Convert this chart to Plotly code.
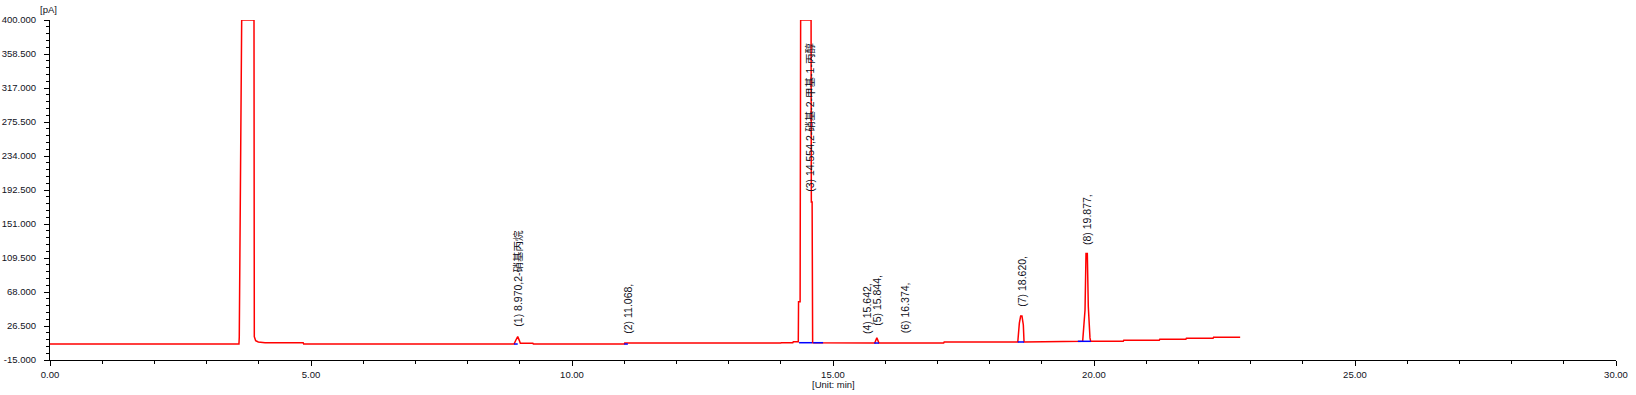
import plotly.graph_objects as go

# ---------------- data ----------------
# chromatogram signal (time in min, signal in pA); saturated peaks clipped at 400
time_min = [0.00, 3.620, 3.626, 3.653, 3.672, 3.908, 3.914, 3.940, 3.990, 4.120, 4.850, 4.860,
            8.890, 8.930, 8.960, 8.990, 9.010, 9.250, 9.260,
            11.000, 11.010, 14.000, 14.010, 14.230, 14.240, 14.335, 14.340, 14.370, 14.380,
            14.580, 14.585, 14.600, 14.610, 15.800, 15.840, 15.880, 17.120, 17.130,
            18.540, 18.570, 18.595, 18.620, 18.646, 18.660, 18.950, 18.960,
            19.783, 19.828, 19.847, 19.872, 19.891, 19.923, 19.936,
            20.560, 20.570, 21.250, 21.260, 21.760, 21.770, 22.280, 22.290, 22.800]
signal_pa = [4.5, 4.5, 13.0, 225.0, 400.0, 400.0, 13.5, 8.6, 7.0, 6.1, 6.1, 4.5,
             4.5, 10.0, 13.5, 9.0, 5.4, 5.4, 4.5,
             4.5, 5.8, 5.8, 6.1, 6.1, 7.3, 7.3, 56.0, 56.0, 400.0,
             400.0, 178.0, 178.0, 6.1, 5.7, 12.2, 5.7, 5.7, 7.0,
             7.0, 30.0, 38.7, 38.7, 28.0, 7.0, 7.0, 7.8,
             7.8, 46.0, 115.0, 115.0, 50.0, 12.0, 7.8,
             7.8, 9.0, 9.0, 10.2, 10.2, 11.5, 11.5, 12.7, 12.7]

# integration baselines (start, end, level)
base_start = [8.89, 11.00, 14.35, 14.62, 15.79, 18.54, 19.69]
base_end = [8.96, 11.07, 14.60, 14.81, 15.88, 18.66, 19.94]
base_level = [4.5, 4.5, 6.1, 6.1, 5.7, 7.0, 7.8]

# peak labels
peak_rt = [8.970, 11.068, 14.554, 15.642, 15.844, 16.374, 18.620, 19.877]
peak_name = ["2-硝基丙烷", "", "2-硝基-2-甲基-1-丙醇", "", "", "", "", ""]
peak_label_level = [24.1, 15.5, 189.3, 15.5, 24.9, 16.7, 49.3, 124.2]

y_ticks = [-15.0, 26.5, 68.0, 109.5, 151.0, 192.5, 234.0, 275.5, 317.0, 358.5, 400.0]
x_ticks = [0, 5, 10, 15, 20, 25, 30]

# ---------------- figure ----------------
fig = go.Figure()
fig.add_trace(go.Scatter(x=time_min, y=signal_pa, mode="lines",
                         line=dict(color="#ff0000", width=1.5), hoverinfo="skip"))

bx, by = [], []
for s, e, l in zip(base_start, base_end, base_level):
    bx += [s, e, None]
    by += [l, l, None]
fig.add_trace(go.Scatter(x=bx, y=by, mode="lines",
                         line=dict(color="#0000ff", width=1.5), hoverinfo="skip"))

font_fam = "Liberation Sans, Arial, Noto Sans CJK SC, sans-serif"
for i, (rt, nm, lv) in enumerate(zip(peak_rt, peak_name, peak_label_level)):
    fig.add_annotation(x=rt, y=lv, xref="x", yref="y",
                       text=f"({i+1}) {rt:.3f},{nm}", textangle=-90,
                       showarrow=False, xanchor="center", yanchor="bottom",
                       font=dict(family=font_fam, size=10.5, color="#111122"),
                       borderpad=0)

fig.add_annotation(x=0, y=1, xref="paper", yref="paper", text="[pA]", showarrow=False,
                   xanchor="center", yanchor="middle", xshift=-2, yshift=11,
                   font=dict(family=font_fam, size=9.5, color="#111122"))
fig.add_annotation(x=0.5, y=0, xref="paper", yref="paper", text="[Unit: min]", showarrow=False,
                   xanchor="center", yanchor="middle", yshift=-24,
                   font=dict(family=font_fam, size=9.5, color="#111122"))

axis_common = dict(showgrid=False, zeroline=False, showline=True, linecolor="black",
                   linewidth=1, ticks="outside", ticklen=5, tickcolor="black", tickwidth=1,
                   automargin=False,
                   tickfont=dict(family=font_fam, size=9.5, color="#111122"))

fig.update_xaxes(range=[0, 30], tickvals=x_ticks, ticktext=[f"{v:.2f}" for v in x_ticks],
                 minor=dict(ticks="outside", ticklen=3, tickcolor="black", dtick=1, tick0=0),
                 ticklabelstandoff=1, **axis_common)
fig.update_yaxes(range=[-15, 400], tickvals=y_ticks, ticktext=[f"{v:.3f}" for v in y_ticks],
                 minor=dict(ticks="outside", ticklen=3, tickcolor="black", dtick=8.3, tick0=-15),
                 ticklabelstandoff=6, **axis_common)

fig.update_layout(width=1636, height=395, margin=dict(l=50, r=20, t=20, b=35),
                  plot_bgcolor="white", paper_bgcolor="white", showlegend=False)

fig.write_html("out.html")
